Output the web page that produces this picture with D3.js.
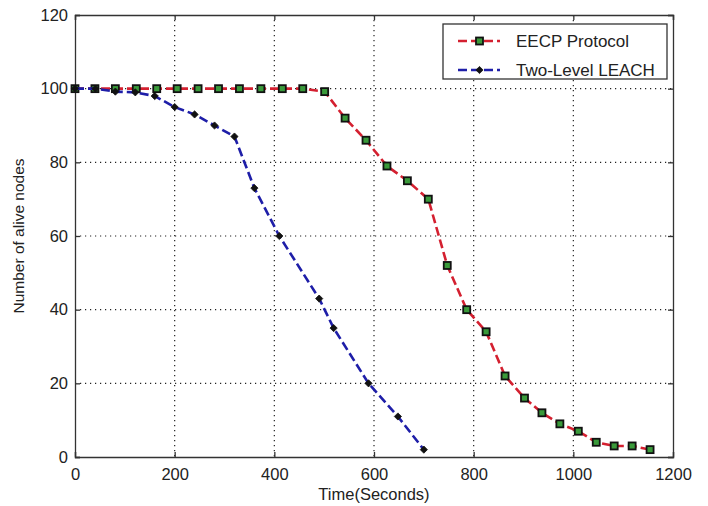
<!DOCTYPE html>
<html><head><meta charset="utf-8">
<script src="https://cdn.jsdelivr.net/npm/d3@7/dist/d3.min.js"></script>
<style>body{margin:0;background:#fff}svg{display:block}text{font-family:"Liberation Sans",Arial,sans-serif;fill:#222}</style>
</head><body><svg id="c" width="708" height="506"></svg>
<script>
const xTicks = [0,200,400,600,800,1000,1200];
const yTicks = [0,20,40,60,80,100,120];
const seriesNames = ["EECP Protocol","Two-Level LEACH"];
const eecpX = [0,40,81,123,164,205,247,288,330,373,416,457,501,542,584,626,667,709,747,786,825,863,902,937,973,1010,1046,1082,1118,1154];
const eecpY = [100,100,100,100,100,100,100,100,100,100,100,100,99.2,92,86,79,75,70,52,40,34,22,16,12,9,7,4,3,3,2];
const leachX = [0,41,81,121,160,200,240,280,320,360,410,490,519,589,648,700];
const leachY = [100,100,99.2,99,98,95,93,90,87,73,60,43,35,20,11,2];

const svg = d3.select("#c");
const m = {l:75, r:673, t:15, b:457};
const x = d3.scaleLinear().domain([0,1200]).range([m.l,m.r]);
const y = d3.scaleLinear().domain([0,120]).range([m.b,m.t]);

// grid
const g = svg.append("g");
g.selectAll(".gx").data(xTicks.slice(1,-1)).join("line")
  .attr("x1",d=>x(d)).attr("x2",d=>x(d)).attr("y1",m.t).attr("y2",m.b)
  .attr("stroke","#222").attr("stroke-width",1.2).attr("stroke-dasharray","1.2,3.8");
g.selectAll(".gy").data(yTicks.slice(1,-1)).join("line")
  .attr("x1",m.l).attr("x2",m.r).attr("y1",d=>y(d)).attr("y2",d=>y(d))
  .attr("stroke","#222").attr("stroke-width",1.2).attr("stroke-dasharray","1.2,3.8");

// axes
const fs = "16.5px";
const ax = svg.append("g").attr("transform",`translate(0,${m.b})`)
  .call(d3.axisBottom(x).tickValues(xTicks).tickSize(-5).tickPadding(11).tickFormat(d3.format("d")));
const ay = svg.append("g").attr("transform",`translate(${m.l},0)`)
  .call(d3.axisLeft(y).tickValues(yTicks).tickSize(-5).tickPadding(7).tickFormat(d3.format("d")));
const at = svg.append("g").attr("transform",`translate(0,${m.t})`)
  .call(d3.axisTop(x).tickValues(xTicks).tickSize(-5).tickFormat(""));
const ar = svg.append("g").attr("transform",`translate(${m.r},0)`)
  .call(d3.axisRight(y).tickValues(yTicks).tickSize(-5).tickFormat(""));
[ax,ay,at,ar].forEach(a=>{
  a.selectAll("path").attr("stroke","#333").attr("stroke-width",1.3);
  a.selectAll("line").attr("stroke","#333").attr("stroke-width",1.3);
  a.selectAll("text").style("font-size",fs).attr("fill","#222").style("font-family","'Liberation Sans',Arial,sans-serif");
});

// series
const line = d3.line().x(d=>x(d[0])).y(d=>y(d[1]));
const eecp = eecpX.map((v,i)=>[v,eecpY[i]]);
const leach = leachX.map((v,i)=>[v,leachY[i]]);
const red = "#d42030", blue = "#1e1ea8";

svg.append("path").datum(eecp).attr("d",line).attr("fill","none")
  .attr("stroke",red).attr("stroke-width",2.6).attr("stroke-dasharray","9,4");
svg.append("g").selectAll("rect").data(eecp).join("rect")
  .attr("x",d=>x(d[0])-3.5).attr("y",d=>y(d[1])-3.5).attr("width",7).attr("height",7)
  .attr("fill","#3a9a3a").attr("stroke","#111").attr("stroke-width",1.8);

svg.append("path").datum(leach).attr("d",line).attr("fill","none")
  .attr("stroke",blue).attr("stroke-width",2.6).attr("stroke-dasharray","9,4");
const sqDiamond = {draw(ctx,size){const r=Math.sqrt(size/2);ctx.moveTo(0,-r);ctx.lineTo(r,0);ctx.lineTo(0,r);ctx.lineTo(-r,0);ctx.closePath();}};
const diamond = d3.symbol().type(sqDiamond).size(26);
svg.append("g").selectAll("path").data(leach).join("path")
  .attr("d",diamond).attr("transform",d=>`translate(${x(d[0])},${y(d[1])})`)
  .attr("fill","#111").attr("stroke","#111").attr("stroke-width",0.8);

// legend
const lg = svg.append("g");
lg.append("rect").attr("x",443).attr("y",24).attr("width",224).attr("height",55)
  .attr("fill","#fff").attr("stroke","#333").attr("stroke-width",1.3);
const rows = [{name:seriesNames[0],c:red,ty:41},{name:seriesNames[1],c:blue,ty:70}];
rows.forEach((r,i)=>{
  lg.append("line").attr("x1",458).attr("x2",500).attr("y1",r.ty).attr("y2",r.ty)
    .attr("stroke",r.c).attr("stroke-width",2.6).attr("stroke-dasharray","9,4");
  if(i===0){
    lg.append("rect").attr("x",476).attr("y",r.ty-3.5).attr("width",7).attr("height",7)
      .attr("fill","#3a9a3a").attr("stroke","#111").attr("stroke-width",1.8);
  } else {
    lg.append("path").attr("d",diamond).attr("transform",`translate(479.5,${r.ty})`).attr("fill","#111").attr("stroke","#111").attr("stroke-width",0.8);
  }
  lg.append("text").attr("x",516).attr("y",r.ty+6).style("font-size","17px").text(r.name);
});

// axis titles
svg.append("text").attr("x",(m.l+m.r)/2).attr("y",500).attr("text-anchor","middle")
  .style("font-size","16.5px").text("Time(Seconds)");
svg.append("text").attr("transform",`translate(24,${(m.t+m.b)/2}) rotate(-90)`).attr("text-anchor","middle")
  .style("font-size","15.5px").text("Number of alive nodes");
</script></body></html>
